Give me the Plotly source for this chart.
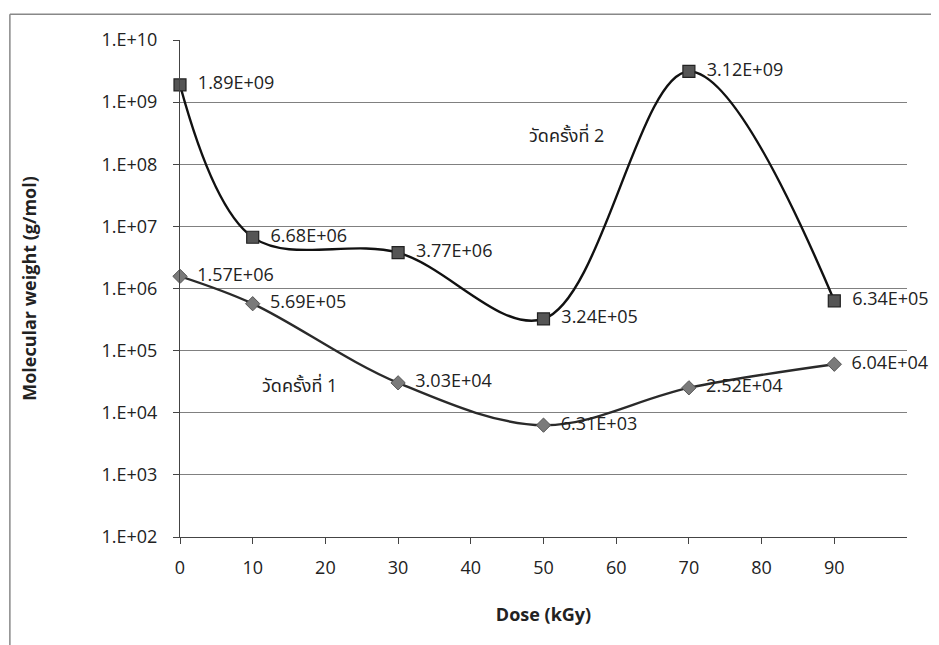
import plotly.graph_objects as go

dose = [0, 10, 30, 50, 70, 90]
mw_run1 = [1.57e6, 5.69e5, 3.03e4, 6.31e3, 2.52e4, 6.04e4]
mw_run2 = [1.89e9, 6.68e6, 3.77e6, 3.24e5, 3.12e9, 6.34e5]
labels_run1 = ["1.57E+06", "5.69E+05", "3.03E+04", "6.31E+03", "2.52E+04", "6.04E+04"]
labels_run2 = ["1.89E+09", "6.68E+06", "3.77E+06", "3.24E+05", "3.12E+09", "6.34E+05"]
y_tickvals = [1e2, 1e3, 1e4, 1e5, 1e6, 1e7, 1e8, 1e9, 1e10]
y_ticktext = ["1.E+02", "1.E+03", "1.E+04", "1.E+05", "1.E+06", "1.E+07", "1.E+08", "1.E+09", "1.E+10"]
x_tickvals = [0, 10, 20, 30, 40, 50, 60, 70, 80, 90]
series_names = ["วัดครั้งที่ 1", "วัดครั้งที่ 2"]

FONT = "Open Sans, Noto Sans, Noto Sans Thai, sans-serif"
FS = 18

fig = go.Figure()
fig.add_trace(go.Scatter(
    x=dose, y=mw_run1, mode="lines+markers+text", name=series_names[0],
    text=["  " + t for t in labels_run1], textposition="middle right",
    textfont=dict(size=FS, color="#222", family=FONT),
    line=dict(color="#2a2a2a", width=2.4, shape="spline", smoothing=1.0),
    marker=dict(symbol="diamond", size=11, color="#7a7a7a", line=dict(color="#555", width=1)),
    cliponaxis=False,
))
fig.add_trace(go.Scatter(
    x=dose, y=mw_run2, mode="lines+markers+text", name=series_names[1],
    text=["  " + t for t in labels_run2], textposition="middle right",
    textfont=dict(size=FS, color="#222", family=FONT),
    line=dict(color="#111", width=2.4, shape="spline", smoothing=1.0),
    marker=dict(symbol="square", size=12, color="#555", line=dict(color="#222", width=1.2)),
    cliponaxis=False,
))

fig.add_annotation(x=53.2, y=8.47, xref="x", yref="y", text=series_names[1],
                   showarrow=False, xanchor="center", yanchor="middle",
                   font=dict(size=FS, color="#222", family=FONT))
fig.add_annotation(x=16.5, y=4.44, xref="x", yref="y", text=series_names[0],
                   showarrow=False, xanchor="center", yanchor="middle",
                   font=dict(size=FS, color="#222", family=FONT))

# outer frame (top and left edges visible in the reference)
fig.add_shape(type="line", xref="paper", yref="paper", x0=-0.234, x1=1.06, y0=1.052, y1=1.052,
              line=dict(color="#888", width=1.5))
fig.add_shape(type="line", xref="paper", yref="paper", x0=-0.234, x1=-0.234, y0=1.052, y1=-0.26,
              line=dict(color="#888", width=1.5))

fig.update_layout(
    width=939, height=645,
    margin=dict(l=172, r=40, t=32, b=116),
    paper_bgcolor="white", plot_bgcolor="white",
    showlegend=False,
    font=dict(family=FONT, size=FS, color="#222"),
)
fig.update_xaxes(
    range=[0, 100], tickvals=x_tickvals, ticks="outside", ticklen=6, tickcolor="#444",
    showline=True, linecolor="#444", linewidth=1.2, showgrid=False, zeroline=False,
    ticklabelstandoff=8,
    tickfont=dict(size=FS, family=FONT, color="#222"),
    title=dict(text="<b>Dose (kGy)</b>", font=dict(size=FS, family=FONT, color="#222"), standoff=30),
)
fig.update_yaxes(
    type="log", range=[2, 10], tickvals=y_tickvals, ticktext=y_ticktext,
    ticks="outside", ticklen=6, tickcolor="#444",
    showline=True, linecolor="#444", linewidth=1.2,
    showgrid=True, gridcolor="#808080", gridwidth=1.2, zeroline=False,
    ticklabelstandoff=12,
    tickfont=dict(size=FS, family=FONT, color="#222"),
    title=dict(text="<b>Molecular weight (g/mol)</b>", font=dict(size=FS, family=FONT, color="#222"), standoff=60),
)

fig.write_html("out.html")
